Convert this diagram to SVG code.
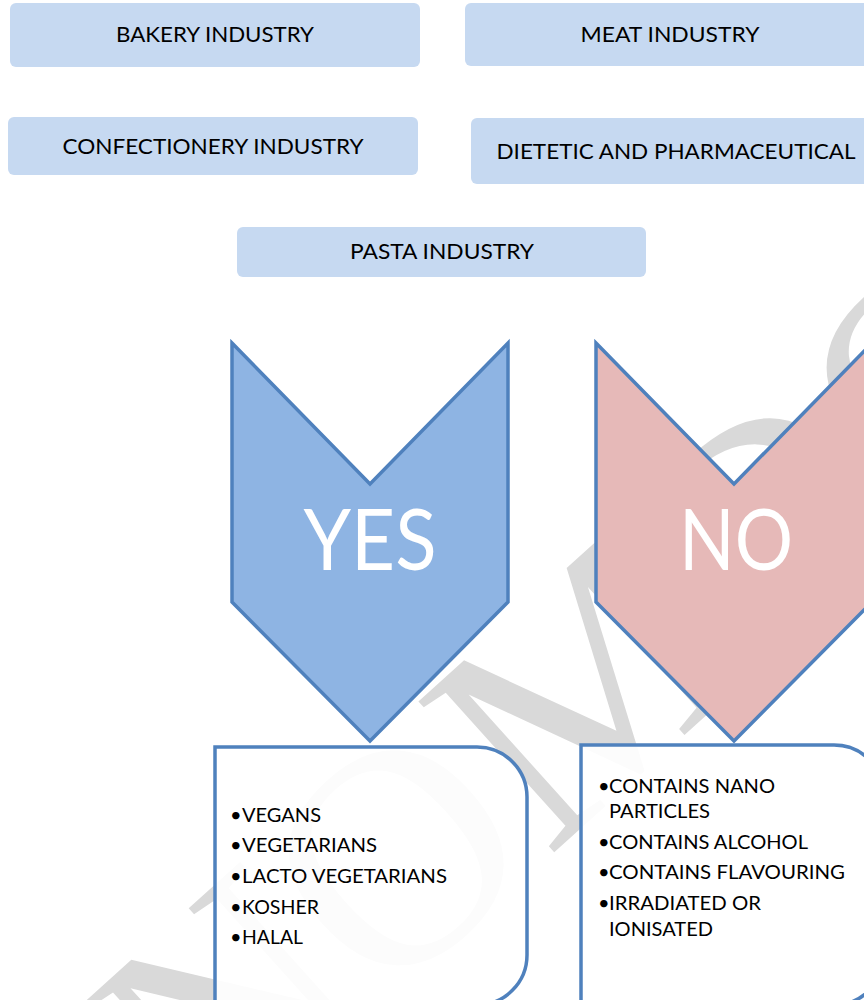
<svg xmlns="http://www.w3.org/2000/svg" width="864" height="1000" viewBox="0 0 864 1000">
<style>
.box{fill:#c6d9f1;}
.lbl{font-family:Lato,"Liberation Sans",sans-serif;font-size:21px;fill:#000;text-anchor:middle;}
.chev{stroke:#4f81bd;stroke-width:3.5;stroke-linejoin:miter;}
.big{font-family:Lato,"Liberation Sans",sans-serif;font-size:86px;fill:#fff;text-anchor:middle;}
.panel{fill:#fff;fill-opacity:0.9;stroke:#4f81bd;stroke-width:3.5;}
.item{font-family:Lato,"Liberation Sans",sans-serif;font-size:20px;fill:#000;}
.wm{font-family:"Liberation Serif",serif;font-size:310px;fill:#d9d9d9;text-anchor:middle;}
</style>
<rect width="864" height="1000" fill="#fff"/>
<g id="watermark">
<text class="wm" transform="translate(650,766) rotate(-42)">NOMDO</text>
</g>
<g id="bakery"><rect class="box" x="10" y="3" width="410" height="64" rx="6"/><text class="lbl" x="215" y="42" textLength="198" lengthAdjust="spacingAndGlyphs">BAKERY INDUSTRY</text></g>
<g id="meat"><rect class="box" x="465" y="3" width="410" height="63" rx="6"/><text class="lbl" x="670" y="42" textLength="179" lengthAdjust="spacingAndGlyphs">MEAT INDUSTRY</text></g>
<g id="confectionery"><rect class="box" x="8" y="117" width="410" height="58" rx="6"/><text class="lbl" x="213" y="154" textLength="301" lengthAdjust="spacingAndGlyphs">CONFECTIONERY INDUSTRY</text></g>
<g id="dietetic"><rect class="box" x="471" y="118" width="410" height="66" rx="6"/><text class="lbl" x="676" y="159" textLength="359" lengthAdjust="spacingAndGlyphs">DIETETIC AND PHARMACEUTICAL</text></g>
<g id="pasta"><rect class="box" x="237" y="227" width="409" height="50" rx="6"/><text class="lbl" x="442" y="259" textLength="184" lengthAdjust="spacingAndGlyphs">PASTA INDUSTRY</text></g>
<g id="yes"><polygon class="chev" fill="#8eb4e3" points="232,343 370,484 508,343 508,602 370,741 232,602"/><text class="big" x="370" y="570" textLength="133" lengthAdjust="spacingAndGlyphs">YES</text></g>
<g id="no"><polygon class="chev" fill="#e6b9b8" points="596,343 734,484 872,343 872,602 734,741 596,602"/><text class="big" x="736" y="570" textLength="114" lengthAdjust="spacingAndGlyphs">NO</text></g>
<g id="connectors"></g>
<g id="yes-list">
<path class="panel" d="M215,747 H477 A50,50 0 0 1 527,797 V955 A50,50 0 0 1 477,1005 H215 Z"/>
<text class="item"><tspan x="230" y="822">•</tspan><tspan x="242" y="822" textLength="79" lengthAdjust="spacingAndGlyphs">VEGANS</tspan></text>
<text class="item"><tspan x="230" y="852">•</tspan><tspan x="242" y="852" textLength="135" lengthAdjust="spacingAndGlyphs">VEGETARIANS</tspan></text>
<text class="item"><tspan x="230" y="883">•</tspan><tspan x="242" y="883" textLength="205" lengthAdjust="spacingAndGlyphs">LACTO VEGETARIANS</tspan></text>
<text class="item"><tspan x="230" y="914">•</tspan><tspan x="242" y="914" textLength="77" lengthAdjust="spacingAndGlyphs">KOSHER</tspan></text>
<text class="item"><tspan x="230" y="944">•</tspan><tspan x="242" y="944" textLength="61" lengthAdjust="spacingAndGlyphs">HALAL</tspan></text>
</g>
<g id="no-list">
<path class="panel" d="M581,745 H834 A50,50 0 0 1 884,795 V955 A50,50 0 0 1 834,1005 H581 Z"/>
<text class="item"><tspan x="598" y="793">•</tspan><tspan x="609" y="793" textLength="166" lengthAdjust="spacingAndGlyphs">CONTAINS NANO</tspan></text>
<text class="item"><tspan x="609" y="818" textLength="101" lengthAdjust="spacingAndGlyphs">PARTICLES</tspan></text>
<text class="item"><tspan x="598" y="849">•</tspan><tspan x="609" y="849" textLength="199" lengthAdjust="spacingAndGlyphs">CONTAINS ALCOHOL</tspan></text>
<text class="item"><tspan x="598" y="879">•</tspan><tspan x="609" y="879" textLength="236" lengthAdjust="spacingAndGlyphs">CONTAINS FLAVOURING</tspan></text>
<text class="item"><tspan x="598" y="910">•</tspan><tspan x="609" y="910" textLength="152" lengthAdjust="spacingAndGlyphs">IRRADIATED OR</tspan></text>
<text class="item"><tspan x="609" y="936" textLength="104" lengthAdjust="spacingAndGlyphs">IONISATED</tspan></text>
</g>
</svg>
